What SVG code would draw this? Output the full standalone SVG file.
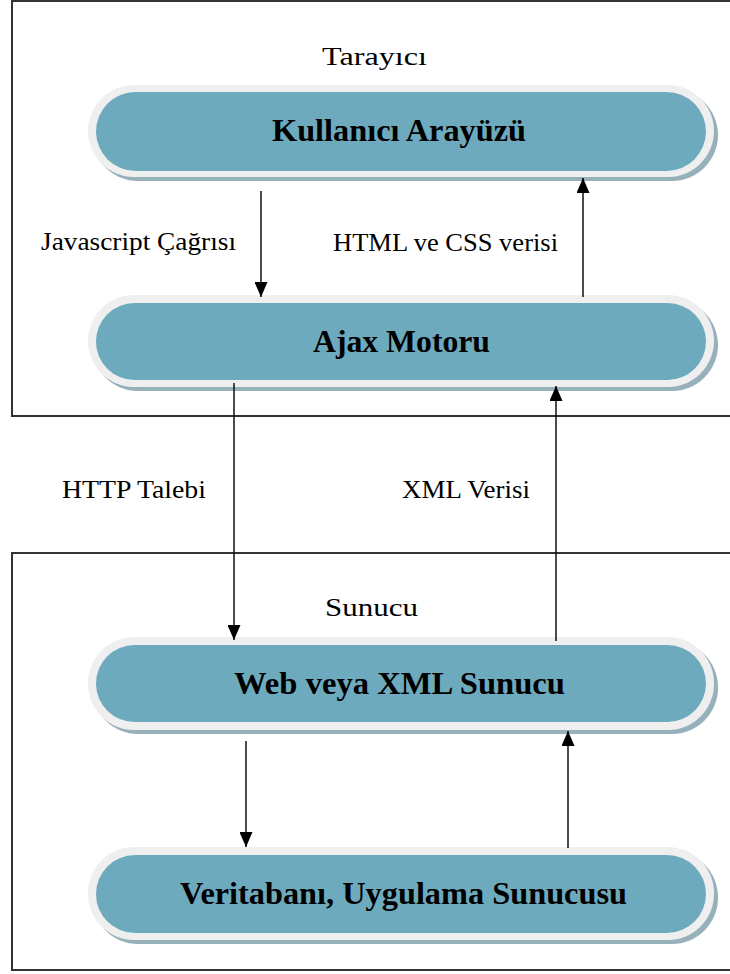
<svg xmlns="http://www.w3.org/2000/svg" width="730" height="974" viewBox="0 0 730 974">
  <style>
    .frame { fill: none; stroke: #333333; stroke-width: 2; }
    .shadow { fill: #97b1bb; }
    .rim { fill: #efefef; }
    .body { fill: #6eaabd; }
    .title { font-family: "Liberation Serif", "Times New Roman", serif; font-weight: bold; font-size: 32px; fill: #000000; }
    .label { font-family: "Liberation Serif", "Times New Roman", serif; font-size: 26px; fill: #000000; }
    .link { stroke: #111111; stroke-width: 1.5; fill: none; marker-end: url(#head); }
  </style>
  <defs>
    <marker id="head" markerUnits="userSpaceOnUse" markerWidth="15" markerHeight="13" refX="15" refY="6.5" orient="auto">
      <path d="M0,0 L15,6.5 L0,13 z" fill="#000000"/>
    </marker>
  </defs>

  <rect width="730" height="974" fill="#ffffff"/>

  <!-- browser and server frames -->
  <g id="browser-frame">
    <path class="frame" d="M740,1 L12,1 L12,416 L740,416"/>
    <text class="label" x="322" y="65" textLength="105" lengthAdjust="spacingAndGlyphs">Tarayıcı</text>
  </g>
  <g id="server-frame">
    <path class="frame" d="M740,553 L12,553 L12,970 L740,970"/>
    <text class="label" x="325" y="616" textLength="93" lengthAdjust="spacingAndGlyphs">Sunucu</text>
  </g>

  <!-- nodes -->
  <g id="node-ui">
    <rect class="shadow" x="92" y="89" width="626" height="92" rx="46"/>
    <rect class="rim" x="88" y="85" width="626" height="92" rx="46"/>
    <rect class="body" x="96" y="92" width="610" height="79" rx="39.5"/>
    <text class="title" x="272" y="141" textLength="254" lengthAdjust="spacingAndGlyphs">Kullanıcı Arayüzü</text>
  </g>
  <g id="node-ajax">
    <rect class="shadow" x="92" y="299" width="626" height="92" rx="46"/>
    <rect class="rim" x="88" y="295" width="626" height="92" rx="46"/>
    <rect class="body" x="96" y="303" width="610" height="77" rx="38.5"/>
    <text class="title" x="313" y="352" textLength="177" lengthAdjust="spacingAndGlyphs">Ajax Motoru</text>
  </g>
  <g id="node-web">
    <rect class="shadow" x="92" y="641" width="626" height="93" rx="46"/>
    <rect class="rim" x="88" y="637" width="626" height="93" rx="46"/>
    <rect class="body" x="96" y="645" width="610" height="77" rx="38.5"/>
    <text class="title" x="234" y="694" textLength="331" lengthAdjust="spacingAndGlyphs">Web veya XML Sunucu</text>
  </g>
  <g id="node-db">
    <rect class="shadow" x="92" y="851" width="626" height="93" rx="46"/>
    <rect class="rim" x="88" y="847" width="626" height="93" rx="46"/>
    <rect class="body" x="96" y="855" width="610" height="78" rx="39"/>
    <text class="title" x="180" y="904" textLength="447" lengthAdjust="spacingAndGlyphs">Veritabanı, Uygulama Sunucusu</text>
  </g>

  <!-- connectors -->
  <g id="connectors">
    <line class="link" x1="261" y1="191" x2="261" y2="297"/>
    <line class="link" x1="583" y1="297" x2="583" y2="178"/>
    <line class="link" x1="234" y1="383" x2="234" y2="640"/>
    <line class="link" x1="556" y1="641" x2="556" y2="386"/>
    <line class="link" x1="246" y1="741" x2="246" y2="847"/>
    <line class="link" x1="568" y1="848" x2="568" y2="731"/>
    <text class="label" x="41" y="250" textLength="195" lengthAdjust="spacingAndGlyphs">Javascript Çağrısı</text>
    <text class="label" x="333" y="251" textLength="225" lengthAdjust="spacingAndGlyphs">HTML ve CSS verisi</text>
    <text class="label" x="62" y="498" textLength="144" lengthAdjust="spacingAndGlyphs">HTTP Talebi</text>
    <text class="label" x="402" y="498" textLength="128" lengthAdjust="spacingAndGlyphs">XML Verisi</text>
  </g>
</svg>
